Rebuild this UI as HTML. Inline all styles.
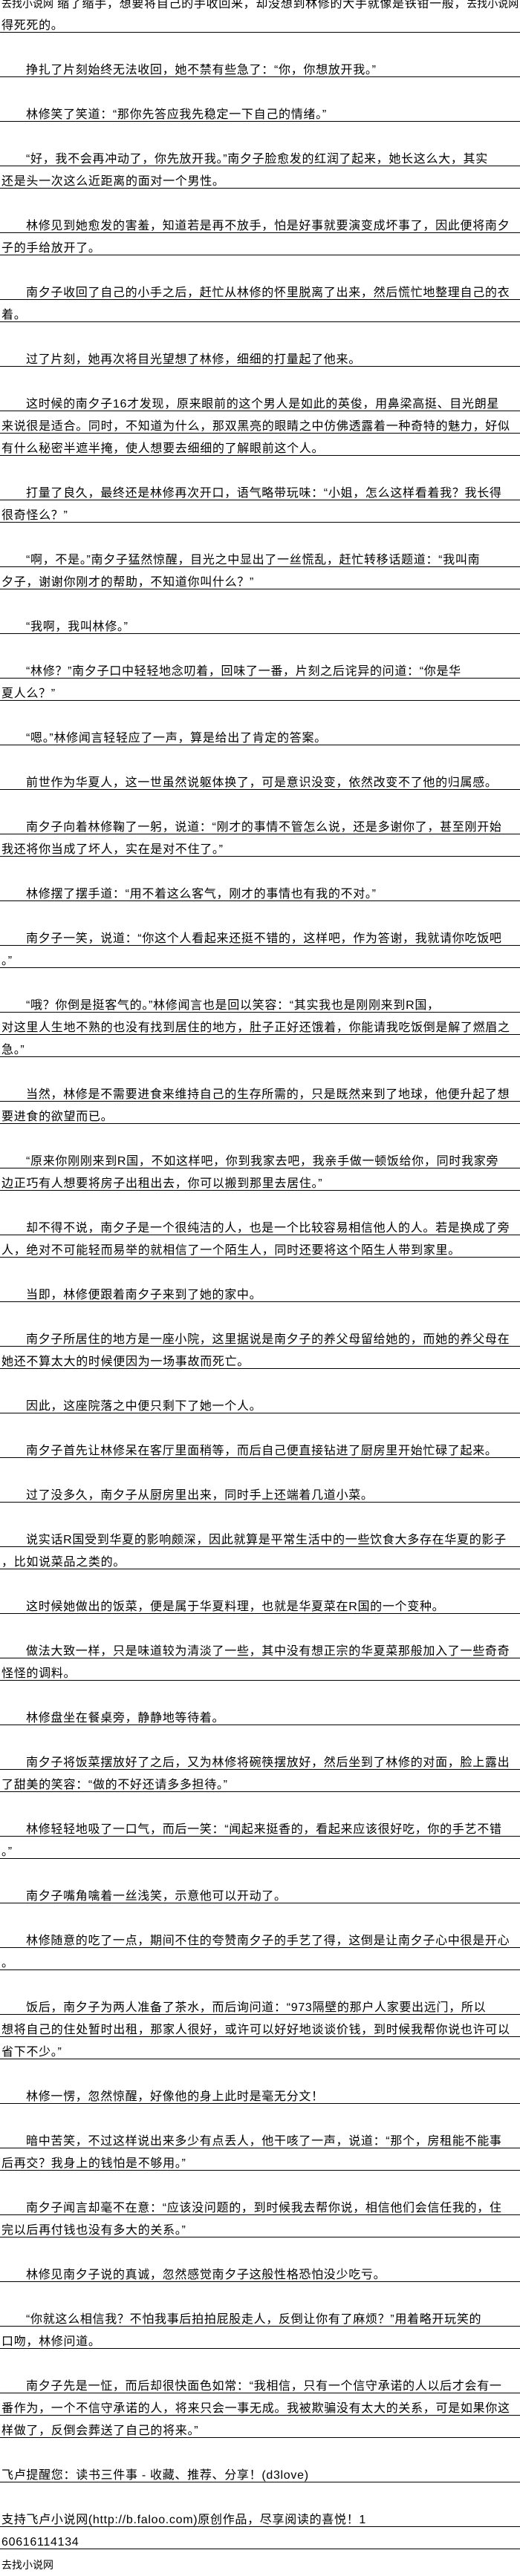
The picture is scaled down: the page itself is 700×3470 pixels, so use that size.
<!DOCTYPE html>
<html><head><meta charset="utf-8"><style>
body{margin:0;width:700px;height:3470px;overflow:hidden;background:#fff;color:#000;font-family:"Liberation Sans","Noto Sans CJK SC",sans-serif;}
.w{margin-top:-16px}
.r{height:30px;box-sizing:border-box;border-bottom:1px solid #000;padding:13px 0 0 2px;line-height:16px;font-size:16px;letter-spacing:0.7px;white-space:nowrap;overflow:hidden}
.i{padding-left:35px}
.b{height:30px}
.n{border-bottom:none}
.u{border-bottom:1px solid #000}
.s{font-size:14px;letter-spacing:0}
</style></head><body><div class="w">
<div class="r n"><span class="s">去找小说网</span> <span class="u">缩了缩手，想要将自己的手收回来，却没想到林修的大手就像是铁钳一般，</span><span class="s">去找小说网</span></div>
<div class="r">得死死的。</div><div class="b"></div>
<div class="r i">挣扎了片刻始终无法收回，她不禁有些急了：“你，你想放开我。”</div><div class="b"></div>
<div class="r i">林修笑了笑道：“那你先答应我先稳定一下自己的情绪。”</div><div class="b"></div>
<div class="r i">“好，我不会再冲动了，你先放开我。”南夕子脸愈发的红润了起来，她长这么大，其实</div>
<div class="r">还是头一次这么近距离的面对一个男性。</div><div class="b"></div>
<div class="r i">林修见到她愈发的害羞，知道若是再不放手，怕是好事就要演变成坏事了，因此便将南夕</div>
<div class="r">子的手给放开了。</div><div class="b"></div>
<div class="r i">南夕子收回了自己的小手之后，赶忙从林修的怀里脱离了出来，然后慌忙地整理自己的衣</div>
<div class="r">着。</div><div class="b"></div>
<div class="r i">过了片刻，她再次将目光望想了林修，细细的打量起了他来。</div><div class="b"></div>
<div class="r i">这时候的南夕子16才发现，原来眼前的这个男人是如此的英俊，用鼻梁高挺、目光朗星</div>
<div class="r">来说很是适合。同时，不知道为什么，那双黑亮的眼睛之中仿佛透露着一种奇特的魅力，好似</div>
<div class="r">有什么秘密半遮半掩，使人想要去细细的了解眼前这个人。</div><div class="b"></div>
<div class="r i">打量了良久，最终还是林修再次开口，语气略带玩味：“小姐，怎么这样看着我？我长得</div>
<div class="r">很奇怪么？”</div><div class="b"></div>
<div class="r i">“啊，不是。”南夕子猛然惊醒，目光之中显出了一丝慌乱，赶忙转移话题道：“我叫南</div>
<div class="r">夕子，谢谢你刚才的帮助，不知道你叫什么？”</div><div class="b"></div>
<div class="r i">“我啊，我叫林修。”</div><div class="b"></div>
<div class="r i">“林修？”南夕子口中轻轻地念叨着，回味了一番，片刻之后诧异的问道：“你是华</div>
<div class="r">夏人么？”</div><div class="b"></div>
<div class="r i">“嗯。”林修闻言轻轻应了一声，算是给出了肯定的答案。</div><div class="b"></div>
<div class="r i">前世作为华夏人，这一世虽然说躯体换了，可是意识没变，依然改变不了他的归属感。</div><div class="b"></div>
<div class="r i">南夕子向着林修鞠了一躬，说道：“刚才的事情不管怎么说，还是多谢你了，甚至刚开始</div>
<div class="r">我还将你当成了坏人，实在是对不住了。”</div><div class="b"></div>
<div class="r i">林修摆了摆手道：“用不着这么客气，刚才的事情也有我的不对。”</div><div class="b"></div>
<div class="r i">南夕子一笑，说道：“你这个人看起来还挺不错的，这样吧，作为答谢，我就请你吃饭吧</div>
<div class="r">。”</div><div class="b"></div>
<div class="r i">“哦？你倒是挺客气的。”林修闻言也是回以笑容：“其实我也是刚刚来到R国，</div>
<div class="r">对这里人生地不熟的也没有找到居住的地方，肚子正好还饿着，你能请我吃饭倒是解了燃眉之</div>
<div class="r">急。”</div><div class="b"></div>
<div class="r i">当然，林修是不需要进食来维持自己的生存所需的，只是既然来到了地球，他便升起了想</div>
<div class="r">要进食的欲望而已。</div><div class="b"></div>
<div class="r i">“原来你刚刚来到R国，不如这样吧，你到我家去吧，我亲手做一顿饭给你，同时我家旁</div>
<div class="r">边正巧有人想要将房子出租出去，你可以搬到那里去居住。”</div><div class="b"></div>
<div class="r i">却不得不说，南夕子是一个很纯洁的人，也是一个比较容易相信他人的人。若是换成了旁</div>
<div class="r">人，绝对不可能轻而易举的就相信了一个陌生人，同时还要将这个陌生人带到家里。</div><div class="b"></div>
<div class="r i">当即，林修便跟着南夕子来到了她的家中。</div><div class="b"></div>
<div class="r i">南夕子所居住的地方是一座小院，这里据说是南夕子的养父母留给她的，而她的养父母在</div>
<div class="r">她还不算太大的时候便因为一场事故而死亡。</div><div class="b"></div>
<div class="r i">因此，这座院落之中便只剩下了她一个人。</div><div class="b"></div>
<div class="r i">南夕子首先让林修呆在客厅里面稍等，而后自己便直接钻进了厨房里开始忙碌了起来。</div><div class="b"></div>
<div class="r i">过了没多久，南夕子从厨房里出来，同时手上还端着几道小菜。</div><div class="b"></div>
<div class="r i">说实话R国受到华夏的影响颇深，因此就算是平常生活中的一些饮食大多存在华夏的影子</div>
<div class="r">，比如说菜品之类的。</div><div class="b"></div>
<div class="r i">这时候她做出的饭菜，便是属于华夏料理，也就是华夏菜在R国的一个变种。</div><div class="b"></div>
<div class="r i">做法大致一样，只是味道较为清淡了一些，其中没有想正宗的华夏菜那般加入了一些奇奇</div>
<div class="r">怪怪的调料。</div><div class="b"></div>
<div class="r i">林修盘坐在餐桌旁，静静地等待着。</div><div class="b"></div>
<div class="r i">南夕子将饭菜摆放好了之后，又为林修将碗筷摆放好，然后坐到了林修的对面，脸上露出</div>
<div class="r">了甜美的笑容：“做的不好还请多多担待。”</div><div class="b"></div>
<div class="r i">林修轻轻地吸了一口气，而后一笑：“闻起来挺香的，看起来应该很好吃，你的手艺不错</div>
<div class="r">。”</div><div class="b"></div>
<div class="r i">南夕子嘴角噙着一丝浅笑，示意他可以开动了。</div><div class="b"></div>
<div class="r i">林修随意的吃了一点，期间不住的夸赞南夕子的手艺了得，这倒是让南夕子心中很是开心</div>
<div class="r">。</div><div class="b"></div>
<div class="r i">饭后，南夕子为两人准备了茶水，而后询问道：“973隔壁的那户人家要出远门，所以</div>
<div class="r">想将自己的住处暂时出租，那家人很好，或许可以好好地谈谈价钱，到时候我帮你说也许可以</div>
<div class="r">省下不少。”</div><div class="b"></div>
<div class="r i">林修一愣，忽然惊醒，好像他的身上此时是毫无分文！</div><div class="b"></div>
<div class="r i">暗中苦笑，不过这样说出来多少有点丢人，他干咳了一声，说道：“那个，房租能不能事</div>
<div class="r">后再交？我身上的钱怕是不够用。”</div><div class="b"></div>
<div class="r i">南夕子闻言却毫不在意：“应该没问题的，到时候我去帮你说，相信他们会信任我的，住</div>
<div class="r">完以后再付钱也没有多大的关系。”</div><div class="b"></div>
<div class="r i">林修见南夕子说的真诚，忽然感觉南夕子这般性格恐怕没少吃亏。</div><div class="b"></div>
<div class="r i">“你就这么相信我？不怕我事后拍拍屁股走人，反倒让你有了麻烦？”用着略开玩笑的</div>
<div class="r">口吻，林修问道。</div><div class="b"></div>
<div class="r i">南夕子先是一怔，而后却很快面色如常：“我相信，只有一个信守承诺的人以后才会有一</div>
<div class="r">番作为，一个不信守承诺的人，将来只会一事无成。我被欺骗没有太大的关系，可是如果你这</div>
<div class="r">样做了，反倒会葬送了自己的将来。”</div><div class="b"></div>
<div class="r">飞卢提醒您：读书三件事 - 收藏、推荐、分享！(d3love)</div><div class="b"></div>
<div class="r">支持飞卢小说网(http://b.faloo.com)原创作品，尽享阅读的喜悦！1</div>
<div class="r">60616114134</div>
<div class="r n"><span class="s">去找小说网</span></div>
</div></body></html>
